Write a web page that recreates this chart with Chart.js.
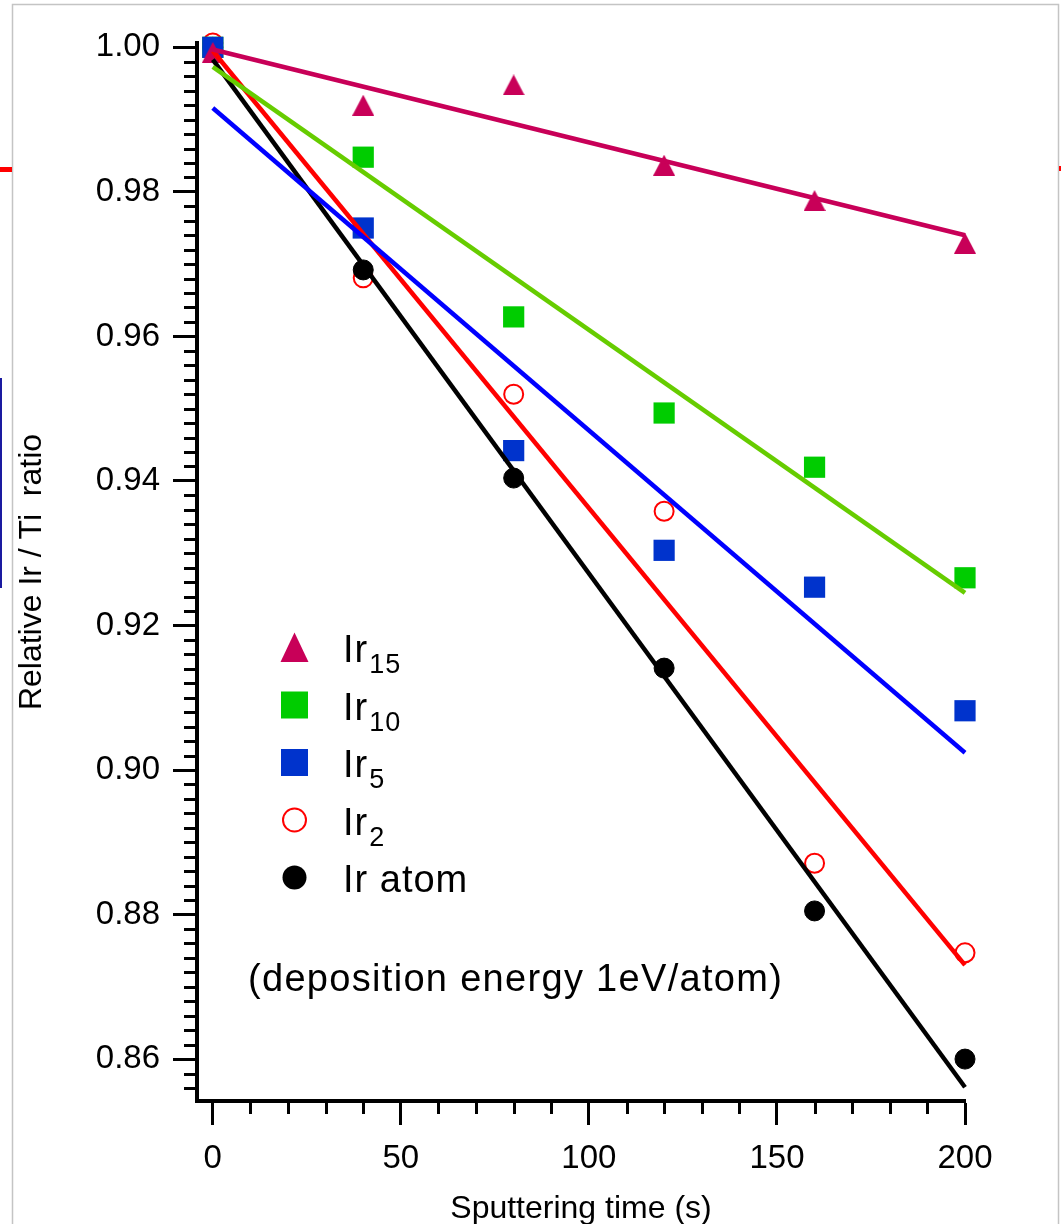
<!DOCTYPE html>
<html>
<head>
<meta charset="utf-8">
<style>
  html, body { margin: 0; padding: 0; background: #ffffff; }
  #wrap { position: relative; width: 1061px; height: 1224px; }
  canvas { display: block; }
</style>
<script src="https://cdn.jsdelivr.net/npm/chart.js@4.4.1/dist/chart.umd.min.js"></script>
</head>
<body>
<div id="wrap"><canvas id="c" width="1061" height="1224"></canvas></div>
<script>
// Sputtering times (s) at which the Ir/Ti ratio was measured
const times = [0, 40, 80, 120, 160, 200];

// Relative Ir/Ti ratio for each deposited cluster size
const ir15   = [0.9993, 0.9920, 0.9948, 0.9837, 0.9788, 0.9729];
const ir10   = [1.0000, 0.9848, 0.9627, 0.9494, 0.9419, 0.9266];
const ir5    = [1.0000, 0.9750, 0.9442, 0.9304, 0.9253, 0.9082];
const ir2    = [1.0006, 0.9681, 0.9520, 0.9358, 0.8871, 0.8747];
const irAtom = [1.0000, 0.9692, 0.9404, 0.9141, 0.8805, 0.8600];

// Straight-line fits, given by their values at t = 0 and t = 200 s
const fitTimes = [0, 200];
const fit15    = [0.9997, 0.9740];
const fit10    = [0.9973, 0.9245];
const fit5     = [0.9916, 0.9024];
const fit2     = [0.9995, 0.8730];
const fitAtom  = [0.9983, 0.8561];

// Axis ticks
const xTicks = [0, 50, 100, 150, 200];
const yTicks = [0.86, 0.88, 0.90, 0.92, 0.94, 0.96, 0.98, 1.00];

// Legend entries: main text and subscript
const legendNames = [["Ir", "15"], ["Ir", "10"], ["Ir", "5"], ["Ir", "2"], ["Ir atom", ""]];
const annotation = "(deposition energy 1eV/atom)";

const FONT = '"Liberation Sans", Arial, sans-serif';
const C15 = '#c80058', C10 = '#00cc00', C10L = '#66cc00', C5 = '#0033cc', C5L = '#0000ff', C2 = '#ff0000', CA = '#000000';

function pts(xs, ys) { return xs.map((x, i) => ({ x: x, y: ys[i] })); }

function triangleImage(w, h, color) {
  const c = document.createElement('canvas');
  c.width = w; c.height = h;
  const g = c.getContext('2d');
  g.fillStyle = color;
  g.beginPath();
  g.moveTo(w / 2, 0); g.lineTo(w, h); g.lineTo(0, h); g.closePath();
  g.fill();
  return c;
}
const triMarker = triangleImage(22, 21, C15);

function fitLine(ys, color, order) {
  return { data: pts(fitTimes, ys), showLine: true, borderColor: color, borderWidth: 4.5,
           pointRadius: 0, fill: false, order: order, clip: false };
}

const datasets = [
  fitLine(fit15, C15, 0),
  fitLine(fit10, C10L, 1),
  fitLine(fit5, C5L, 2),
  fitLine(fit2, C2, 3),
  fitLine(fitAtom, CA, 4),
  { data: pts(times, ir15), pointStyle: triMarker, pointRadius: 11, showLine: false, order: 10, clip: false },
  { data: pts(times, ir5), pointStyle: 'rect', pointRadius: 15, backgroundColor: C5, borderColor: C5, borderWidth: 0, showLine: false, order: 11, clip: false },
  { data: pts(times, ir10), pointStyle: 'rect', pointRadius: 15, backgroundColor: C10, borderColor: C10, borderWidth: 0, showLine: false, order: 12, clip: false },
  { data: pts(times, irAtom), pointStyle: 'circle', pointRadius: 10, backgroundColor: CA, borderColor: CA, borderWidth: 1, showLine: false, order: 13, clip: false },
  { data: pts(times, ir2), pointStyle: 'circle', pointRadius: 9.5, backgroundColor: 'rgba(0,0,0,0)', borderColor: C2, borderWidth: 2, showLine: false, order: 14, clip: false }
];

// Page frame and the small coloured marks on its edges
const framePlugin = {
  id: 'frame',
  beforeDraw(chart) {
    const ctx = chart.ctx;
    ctx.save();
    ctx.fillStyle = '#ffffff';
    ctx.fillRect(0, 0, chart.width, chart.height);
    ctx.strokeStyle = '#c4c4c4';
    ctx.lineWidth = 1.5;
    ctx.strokeRect(12.5, 4.5, 1046, 1240);
    ctx.fillStyle = '#ff0000';
    ctx.fillRect(0, 167, 12, 5);
    ctx.fillRect(1059, 166, 2, 5);
    ctx.fillStyle = '#1a1aa0';
    ctx.fillRect(0, 378, 2, 210);
    ctx.restore();
  }
};

// Minor tick marks along both axes
const minorTicksPlugin = {
  id: 'minorTicks',
  afterDraw(chart) {
    const ctx = chart.ctx, xs = chart.scales.x, ys = chart.scales.y;
    const area = chart.chartArea;
    ctx.save();
    ctx.strokeStyle = '#000';
    ctx.lineWidth = 3;
    ctx.beginPath();
    for (let k = 1; k < 20; k++) {
      if (k % 5 === 0) continue;
      const px = Math.round(xs.getPixelForValue(k * 10)) + 0.5;
      ctx.moveTo(px, area.bottom);
      ctx.lineTo(px, area.bottom + 13);
    }
    for (let k = -2; k < 70; k++) {
      if (k % 10 === 0) continue;
      const py = Math.round(ys.getPixelForValue(0.86 + k * 0.002)) + 0.5;
      ctx.moveTo(area.left, py);
      ctx.lineTo(area.left - 13, py);
    }
    ctx.stroke();
    ctx.restore();
  }
};

// Legend with subscripted cluster sizes, plus the deposition-energy note
const legendPlugin = {
  id: 'customLegend',
  afterDraw(chart) {
    const ctx = chart.ctx;
    const mx = 294.5, tx = 343;
    const base0 = 662, step = 57.5;
    ctx.save();
    legendNames.forEach((name, i) => {
      const by = base0 + i * step;
      const cy = by - 14.5;
      ctx.beginPath();
      if (i === 0) {
        ctx.fillStyle = C15;
        ctx.moveTo(mx, cy - 15); ctx.lineTo(mx + 14, cy + 14.5); ctx.lineTo(mx - 14, cy + 14.5); ctx.closePath();
        ctx.fill();
      } else if (i === 1 || i === 2) {
        ctx.fillStyle = i === 1 ? C10 : C5;
        ctx.fillRect(mx - 13.5, cy - 13.5, 27, 27);
      } else if (i === 3) {
        ctx.strokeStyle = C2; ctx.lineWidth = 2;
        ctx.arc(mx, cy, 11.5, 0, Math.PI * 2);
        ctx.stroke();
      } else {
        ctx.fillStyle = CA;
        ctx.arc(mx, cy, 12, 0, Math.PI * 2);
        ctx.fill();
      }
      ctx.fillStyle = '#000';
      ctx.textAlign = 'left';
      ctx.textBaseline = 'alphabetic';
      ctx.letterSpacing = '1px';
      ctx.font = '38px ' + FONT;
      ctx.fillText(name[0], tx, by);
      if (name[1]) {
        const w = ctx.measureText(name[0]).width;
        ctx.font = '27px ' + FONT;
        ctx.fillText(name[1], tx + w + 1, by + 11);
      }
    });
    ctx.font = '38px ' + FONT;
    ctx.letterSpacing = '0px';
    const natural = ctx.measureText(annotation).width;
    const spacing = (534 - natural) / (annotation.length - 1);
    ctx.letterSpacing = spacing.toFixed(2) + 'px';
    ctx.fillText(annotation, 248, 991);
    ctx.restore();
  }
};

new Chart(document.getElementById('c'), {
  type: 'scatter',
  data: { datasets: datasets },
  plugins: [framePlugin, minorTicksPlugin, legendPlugin],
  options: {
    responsive: false,
    animation: false,
    events: [],
    layout: { padding: { top: 43, right: 96, left: 0, bottom: 0 } },
    plugins: { legend: { display: false }, tooltip: { enabled: false } },
    scales: {
      x: {
        type: 'linear', min: -4.2, max: 200,
        afterBuildTicks: s => { s.ticks = xTicks.map(v => ({ value: v })); },
        afterFit: s => { s.height = 123; },
        ticks: { font: { family: FONT, size: 33 }, color: '#000', padding: 14, maxRotation: 0, autoSkip: false,
                 callback: v => String(v) },
        grid: { display: true, drawOnChartArea: false, drawTicks: true, tickLength: 24, tickWidth: 3, tickColor: '#000' },
        border: { display: true, color: '#000', width: 4 },
        title: { display: true, text: 'Sputtering time (s)', color: '#000', font: { family: FONT, size: 32 },
                 padding: { top: 0, bottom: -4 } }
      },
      y: {
        type: 'linear', min: 0.8542, max: 1.0006,
        afterBuildTicks: s => { s.ticks = yTicks.map(v => ({ value: v })); },
        afterFit: s => { s.width = 197; },
        ticks: { font: { family: FONT, size: 33 }, color: '#000', padding: 13, autoSkip: false,
                 callback: v => v.toFixed(2) },
        grid: { display: true, drawOnChartArea: false, drawTicks: true, tickLength: 24, tickWidth: 3, tickColor: '#000' },
        border: { display: true, color: '#000', width: 4 },
        title: { display: true, text: 'Relative Ir / Ti  ratio', color: '#000', font: { family: FONT, size: 32 },
                 padding: { top: 13, bottom: 0 } }
      }
    }
  }
});
</script>
</body>
</html>
